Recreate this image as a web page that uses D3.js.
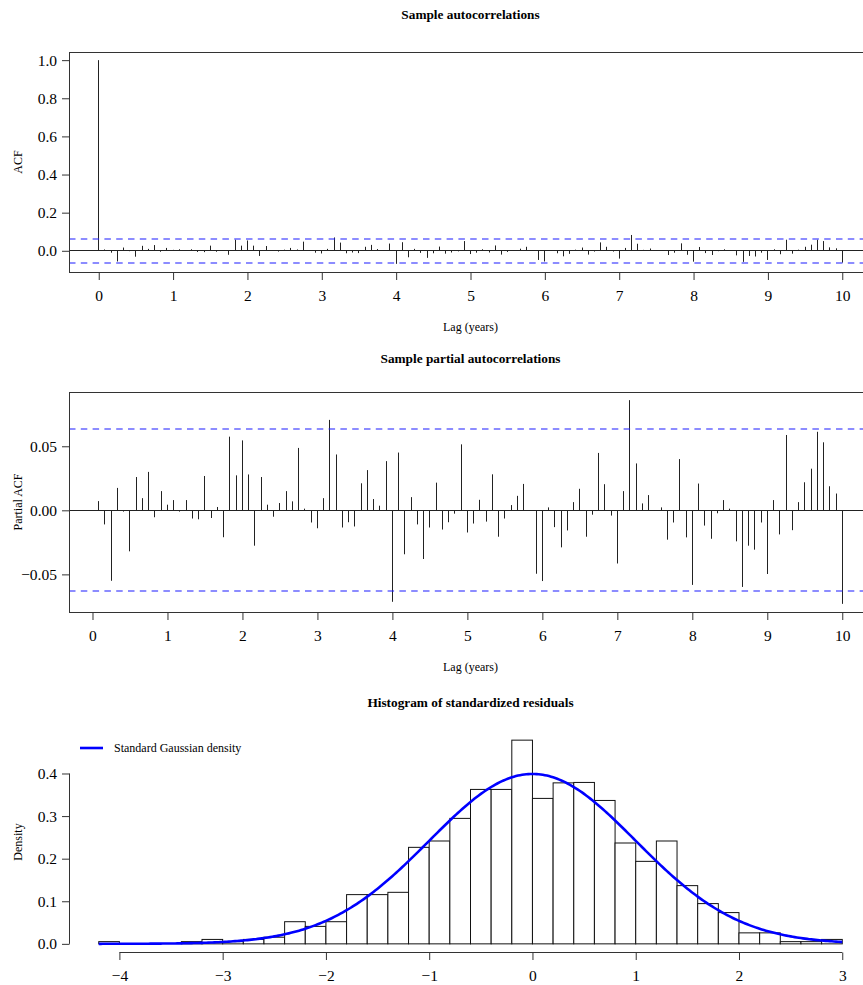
<!DOCTYPE html>
<html>
<head>
<meta charset="utf-8">
<script src="https://cdn.jsdelivr.net/npm/d3@7"></script>
<style>
  body { margin: 0; background: #ffffff; }
  svg { display: block; font-family: "Liberation Serif", "Times New Roman", serif; }
</style>
</head>
<body>
<div id="body"></div>
<script>
// sample ACF, lag 0..120 months (lag in years = index / 12)
var acfValues = [
  1.0, 0.007, -0.010, -0.056, 0.017, -0.002, -0.031, 0.026, 0.010, 0.030,
  -0.005, 0.015, 0.005, 0.008, -0.001, 0.008, -0.006, -0.007, 0.027, -0.005,
  0.003, -0.021, 0.058, 0.027, 0.054, 0.027, -0.027, 0.025, 0.004, -0.004,
  0.006, 0.015, 0.007, 0.048, 0.002, -0.010, -0.014, 0.010, 0.070, 0.043,
  -0.013, -0.009, -0.012, 0.021, 0.031, 0.009, 0.004, 0.038, -0.0685, 0.045,
  -0.034, 0.010, -0.011, -0.037, -0.013, 0.022, -0.015, -0.009, -0.003, 0.051,
  -0.017, -0.010, 0.008, -0.009, 0.028, -0.020, -0.006, 0.004, 0.011, 0.021,
  -0.001, -0.048, -0.056, 0.002, -0.013, -0.029, -0.016, 0.006, 0.017, -0.020,
  -0.004, 0.044, 0.021, -0.004, -0.041, 0.015, 0.083, 0.037, 0.005, 0.012,
  -0.001, 0.002, -0.022, -0.010, 0.039, -0.021, -0.057, 0.020, -0.012, -0.022,
  -0.002, 0.008, 0.001, -0.024, -0.058, -0.027, -0.030, -0.010, -0.048, 0.008,
  -0.018, 0.058, -0.015, 0.006, 0.021, 0.032, 0.058, 0.051, 0.018, 0.013,
  -0.062
];

// sample PACF, lag 1..120 months
var pacfValues = [
  0.0072, -0.011, -0.055, 0.0175, -0.001, -0.032, 0.026, 0.0095, 0.030, -0.0054,
  0.015, 0.0044, 0.008, -0.001, 0.008, -0.0064, -0.007, 0.0268, -0.006, 0.0026,
  -0.021, 0.0575, 0.0273, 0.0546, 0.028, -0.0276, 0.026, 0.0044, -0.005, 0.0057,
  0.015, 0.007, 0.0487, 0.0013, -0.0095, -0.014, 0.0095, 0.0706, 0.0436, -0.0134,
  -0.0093, -0.0126, 0.0211, 0.0314, 0.0088, 0.0036, 0.0384, -0.0714, 0.0451, -0.0343,
  0.0103, -0.011, -0.038, -0.0134, 0.0216, -0.015, -0.0093, -0.0026, 0.0515, -0.0173,
  -0.0103, 0.0082, -0.0088, 0.0281, -0.0206, -0.0064, 0.0041, 0.0113, 0.0206, -0.0005,
  -0.0495, -0.0552, 0.0023, -0.0131, -0.0289, -0.0157, 0.0064, 0.0168, -0.0206, -0.0034,
  0.0448, 0.0204, -0.0041, -0.0415, 0.015, 0.086, 0.0366, 0.0054, 0.0119, -0.0003,
  0.0023, -0.0229, -0.0095, 0.040, -0.0211, -0.0582, 0.0209, -0.0119, -0.0222, -0.0023,
  0.008, 0.0013, -0.0242, -0.0598, -0.0276, -0.0307, -0.0095, -0.0497, 0.008, -0.0188,
  0.0588, -0.0155, 0.0064, 0.0219, 0.0325, 0.0613, 0.0531, 0.0188, 0.0131, -0.073
];

var ciBound = 0.0633;

var histBreaks = [
  -4.2, -4.0, -3.8, -3.6, -3.4, -3.2, -3.0, -2.8, -2.6, -2.4, -2.2, -2.0, -1.8,
  -1.6, -1.4, -1.2, -1.0, -0.8, -0.6, -0.4, -0.2, 0.0, 0.2, 0.4, 0.6, 0.8, 1.0,
  1.2, 1.4, 1.6, 1.8, 2.0, 2.2, 2.4, 2.6, 2.8, 3.0
];
var histDensity = [
  0.0052, 0, 0, 0, 0.0052, 0.0104, 0.0052, 0.0104, 0.0156, 0.052, 0.041, 0.052,
  0.1156, 0.1156, 0.121, 0.2266, 0.2415, 0.2946, 0.3626, 0.3626, 0.4783, 0.3415,
  0.378, 0.379, 0.3367, 0.2368, 0.1937, 0.2415, 0.1367, 0.0945, 0.0734, 0.0258,
  0.0258, 0.0052, 0.0052, 0.0104
];

var lagTicks = [0, 1, 2, 3, 4, 5, 6, 7, 8, 9, 10];
var acfYTicks = [0, 0.2, 0.4, 0.6, 0.8, 1.0];
var pacfYTicks = [-0.05, 0, 0.05];
var histXTicks = [-4, -3, -2, -1, 0, 1, 2, 3];
var histYTicks = [0, 0.1, 0.2, 0.3, 0.4];

var width = 863;
var height = 985;
var left = 69;
var right = 872;
var lineColor = "#222";
var boxColor = "#333";
var ciColor = "#1a1aff";
var tickFont = "15.5px";
var labelFont = "12px";
var titleFont = "13.3px";

// R style axis range: data range widened by 4% on each side
function pad(lo, hi) {
  var d = (hi - lo) * 0.04;
  return [lo - d, hi + d];
}

// snap a coordinate onto the pixel grid for crisp 1px lines
function crisp(v) {
  return Math.round(v - 0.5) + 0.5;
}

function fmtMinus(s) {
  return s.replace("-", "\u2212");
}

var svg = d3
  .select("#body")
  .append("svg")
  .attr("width", width)
  .attr("height", height);

function drawTitle(y, text) {
  svg
    .append("text")
    .attr("x", (left + right) / 2)
    .attr("y", y)
    .attr("text-anchor", "middle")
    .attr("font-size", titleFont)
    .attr("font-weight", "bold")
    .attr("fill", "#000")
    .text(text);
}

function drawYLabel(oy, text) {
  svg
    .append("text")
    .attr("transform", "translate(22," + (oy + 162) + ") rotate(-90)")
    .attr("text-anchor", "middle")
    .attr("font-size", labelFont)
    .attr("fill", "#000")
    .text(text);
}

function drawXLabel(oy, text) {
  svg
    .append("text")
    .attr("x", (left + right) / 2)
    .attr("y", oy + 331)
    .attr("text-anchor", "middle")
    .attr("font-size", labelFont)
    .attr("fill", "#000")
    .text(text);
}

// axis like R's axis(): line from first to last tick, ticks outward
function drawXAxis(g, x, y0, ticks, fmt) {
  g.append("line")
    .attr("x1", x(ticks[0]))
    .attr("x2", x(ticks[ticks.length - 1]))
    .attr("y1", y0)
    .attr("y2", y0)
    .attr("stroke", boxColor);
  var axis = d3.axisBottom(x).tickValues(ticks).tickSize(7.5).tickPadding(10).tickFormat(fmt);
  var ga = g.append("g").attr("transform", "translate(0," + y0 + ")").call(axis);
  ga.select(".domain").remove();
  ga.selectAll("line").attr("stroke", boxColor);
  ga.selectAll("text")
    .attr("font-size", tickFont)
    .attr("font-family", "Liberation Serif, serif")
    .attr("fill", "#000");
}

function drawYAxis(g, y, x0, ticks, fmt) {
  g.append("line")
    .attr("x1", x0)
    .attr("x2", x0)
    .attr("y1", y(ticks[0]))
    .attr("y2", y(ticks[ticks.length - 1]))
    .attr("stroke", boxColor);
  var axis = d3.axisLeft(y).tickValues(ticks).tickSize(7.5).tickPadding(5).tickFormat(fmt);
  var ga = g.append("g").attr("transform", "translate(" + x0 + ",0)").call(axis);
  ga.select(".domain").remove();
  ga.selectAll("line").attr("stroke", boxColor);
  ga.selectAll("text")
    .attr("font-size", tickFont)
    .attr("font-family", "Liberation Serif, serif")
    .attr("fill", "#000");
}

function drawBox(g, top, bottom) {
  g.append("rect")
    .attr("x", left + 0.5)
    .attr("y", top)
    .attr("width", right - left)
    .attr("height", bottom - top)
    .attr("fill", "none")
    .attr("stroke", boxColor);
}

// dashed confidence bounds (left soft, they read lighter blue in the original)
function drawCi(g, y) {
  g.selectAll("line.ci")
    .data([ciBound, -ciBound])
    .enter()
    .append("line")
    .attr("class", "ci")
    .attr("x1", left)
    .attr("x2", right)
    .attr("y1", function (d) { return Math.round(y(d)); })
    .attr("y2", function (d) { return Math.round(y(d)); })
    .attr("stroke", ciColor)
    .attr("stroke-width", 1.2)
    .attr("stroke-dasharray", "6.5,5.3");
}

//======================= ACF ============================

var oy1 = 0;
var acfData = acfValues.map(function (v, i) { return { lag: i / 12, value: v }; });
var xA = d3.scaleLinear().domain(pad(0, 10)).range([left, right]);
var yA = d3
  .scaleLinear()
  .domain(pad(Math.min(d3.min(acfValues), -ciBound), Math.max(d3.max(acfValues), ciBound)))
  .range([oy1 + 272, oy1 + 52]);

var g1 = svg.append("g");
drawTitle(18.5, "Sample autocorrelations");
drawYLabel(oy1, "ACF");
drawXLabel(oy1, "Lag (years)");

g1.append("line")
  .attr("x1", left)
  .attr("x2", right)
  .attr("y1", crisp(yA(0)))
  .attr("y2", crisp(yA(0)))
  .attr("stroke", lineColor);

g1.selectAll("line.spike")
  .data(acfData)
  .enter()
  .append("line")
  .attr("class", "spike")
  .attr("x1", function (d) { return crisp(xA(d.lag)); })
  .attr("x2", function (d) { return crisp(xA(d.lag)); })
  .attr("y1", crisp(yA(0)))
  .attr("y2", function (d) { return yA(d.value); })
  .attr("stroke", lineColor);

drawCi(g1, yA);
drawBox(g1, oy1 + 52.5, oy1 + 272.5);
drawXAxis(g1, xA, oy1 + 272.5, lagTicks, d3.format("d"));
drawYAxis(g1, yA, left + 0.5, acfYTicks, d3.format(".1f"));

//======================= PACF ============================

var oy2 = 340;
var pacfData = pacfValues.map(function (v, i) { return { lag: (i + 1) / 12, value: v }; });
var xP = d3.scaleLinear().domain(pad(1 / 12, 10)).range([left, right]);
var yP = d3
  .scaleLinear()
  .domain(pad(Math.min(d3.min(pacfValues), -ciBound), Math.max(d3.max(pacfValues), ciBound)))
  .range([oy2 + 272, oy2 + 52]);

var g2 = svg.append("g");
drawTitle(362.5, "Sample partial autocorrelations");
drawYLabel(oy2, "Partial ACF");
drawXLabel(oy2, "Lag (years)");

g2.append("line")
  .attr("x1", left)
  .attr("x2", right)
  .attr("y1", crisp(yP(0)))
  .attr("y2", crisp(yP(0)))
  .attr("stroke", lineColor);

g2.selectAll("line.spike")
  .data(pacfData)
  .enter()
  .append("line")
  .attr("class", "spike")
  .attr("x1", function (d) { return crisp(xP(d.lag)); })
  .attr("x2", function (d) { return crisp(xP(d.lag)); })
  .attr("y1", crisp(yP(0)))
  .attr("y2", function (d) { return yP(d.value); })
  .attr("stroke", lineColor);

drawCi(g2, yP);
drawBox(g2, oy2 + 52.5, oy2 + 272.5);
drawXAxis(g2, xP, oy2 + 272.5, lagTicks, d3.format("d"));
drawYAxis(g2, yP, left + 0.5, pacfYTicks, function (d) { return fmtMinus(d3.format(".2f")(d)); });

//======================= HISTOGRAM ============================

var oy3 = 680;
var bins = histDensity.map(function (d, i) {
  return { x0: histBreaks[i], x1: histBreaks[i + 1], density: d };
});
var xH = d3
  .scaleLinear()
  .domain(pad(histBreaks[0], histBreaks[histBreaks.length - 1]))
  .range([left, right]);
var yH = d3
  .scaleLinear()
  .domain(pad(0, d3.max(histDensity)))
  .range([oy3 + 272, oy3 + 52]);

var g3 = svg.append("g");
drawTitle(706.5, "Histogram of standardized residuals");
drawYLabel(oy3, "Density");

g3.selectAll("rect.bin")
  .data(bins)
  .enter()
  .append("rect")
  .attr("class", "bin")
  .attr("x", function (d) { return xH(d.x0); })
  .attr("width", function (d) { return xH(d.x1) - xH(d.x0); })
  .attr("y", function (d) { return yH(d.density); })
  .attr("height", function (d) { return yH(0) - yH(d.density); })
  .attr("fill", "#fff")
  .attr("stroke", "#111");

// standard normal density curve (the theoretical reference in the legend)
var curveX = d3.range(histBreaks[0], histBreaks[histBreaks.length - 1] + 0.001, 0.02);
var curve = d3
  .line()
  .x(function (d) { return xH(d); })
  .y(function (d) { return yH(Math.exp(-d * d / 2) / Math.sqrt(2 * Math.PI)); });

g3.append("path")
  .datum(curveX)
  .attr("d", curve)
  .attr("fill", "none")
  .attr("stroke", "#0000ff")
  .attr("stroke-width", 2.6);

drawXAxis(g3, xH, oy3 + 272.5, histXTicks, function (d) { return fmtMinus(String(d)); });
drawYAxis(g3, yH, left + 0.5, histYTicks, d3.format(".1f"));

// legend
g3.append("line")
  .attr("x1", 80)
  .attr("x2", 103)
  .attr("y1", oy3 + 68)
  .attr("y2", oy3 + 68)
  .attr("stroke", "#0000ff")
  .attr("stroke-width", 2.6);

g3.append("text")
  .attr("x", 114)
  .attr("y", oy3 + 72)
  .attr("font-size", labelFont)
  .attr("fill", "#000")
  .text("Standard Gaussian density");
</script>
</body>
</html>
